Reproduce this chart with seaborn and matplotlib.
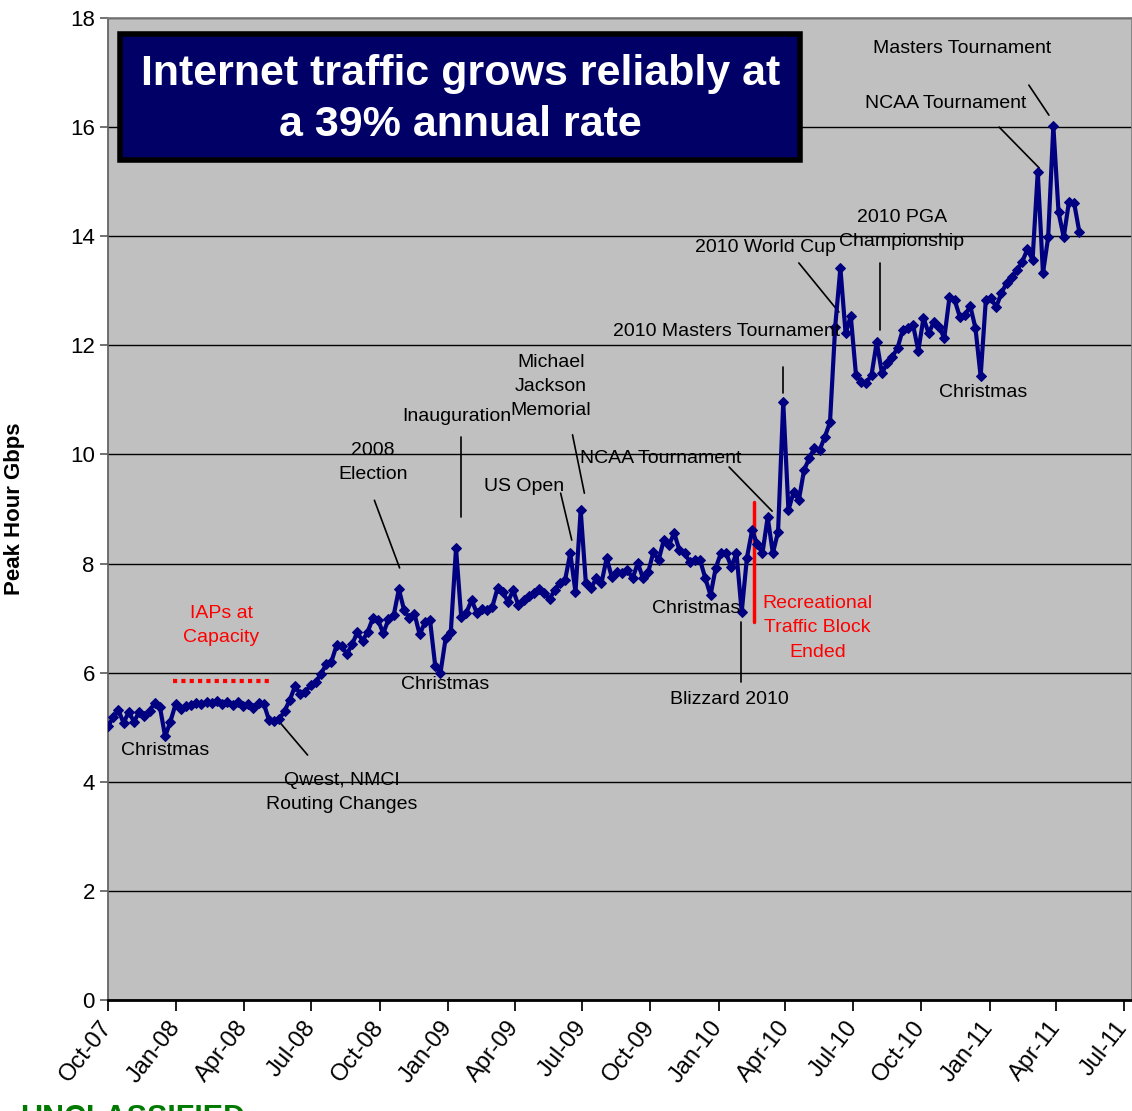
import numpy as np
import pandas as pd
import matplotlib
matplotlib.use("Agg")
import matplotlib.pyplot as plt
import matplotlib.dates as mdates
from matplotlib.patches import Rectangle
import seaborn as sns


# DATA

start_date = "2007-10-01"

peak_gbps = [
    5.02, 5.18, 5.31, 5.08, 5.28, 5.10, 5.28, 5.20, 5.30, 5.45,
    5.37, 4.83, 5.10, 5.42, 5.33, 5.38, 5.40, 5.45, 5.42, 5.47,
    5.44, 5.48, 5.43, 5.47, 5.41, 5.46, 5.38, 5.42, 5.35, 5.44,
    5.43, 5.13, 5.12, 5.15, 5.30, 5.50, 5.75, 5.61, 5.65, 5.77,
    5.82, 5.98, 6.15, 6.20, 6.50, 6.48, 6.34, 6.52, 6.74, 6.58,
    6.75, 7.00, 6.96, 6.72, 6.98, 7.05, 7.53, 7.15, 7.00, 7.08,
    6.70, 6.92, 6.96, 6.12, 5.99, 6.63, 6.75, 8.28, 7.02, 7.10,
    7.33, 7.10, 7.16, 7.15, 7.21, 7.55, 7.48, 7.30, 7.51, 7.24,
    7.33, 7.40, 7.46, 7.53, 7.46, 7.35, 7.51, 7.64, 7.70, 8.19,
    7.48, 8.98, 7.64, 7.55, 7.73, 7.64, 8.10, 7.75, 7.84, 7.82,
    7.88, 7.73, 8.01, 7.73, 7.84, 8.21, 8.06, 8.43, 8.34, 8.56,
    8.25, 8.19, 8.03, 8.06, 8.06, 7.73, 7.42, 7.92, 8.19, 8.19,
    7.94, 8.19, 7.11, 8.10, 8.61, 8.35, 8.19, 8.85, 8.19, 8.58,
    10.96, 8.98, 9.31, 9.16, 9.71, 9.93, 10.12, 10.08, 10.32, 10.59,
    12.34, 13.42, 12.22, 12.54, 11.46, 11.33, 11.31, 11.46, 12.06, 11.49,
    11.67, 11.79, 11.95, 12.28, 12.32, 12.37, 11.90, 12.50, 12.22, 12.43,
    12.34, 12.13, 12.88, 12.83, 12.52, 12.56, 12.72, 12.32, 11.43, 12.83,
    12.86, 12.70, 12.96, 13.14, 13.25, 13.38, 13.53, 13.76, 13.57, 15.18,
    13.32, 13.98, 16.02, 14.44, 13.98, 14.63, 14.61, 14.08,
]

y_ticks = [0, 2, 4, 6, 8, 10, 12, 14, 16, 18]

title_text = "Internet traffic grows reliably at\na 39% annual rate"

# (label, date, value, colour)
annotations = [
    ("Christmas", "2007-12-17", 4.58, "black"),
    ("Qwest, NMCI\nRouting Changes", "2008-08-11", 3.81, "black"),
    ("IAPs at\nCapacity", "2008-03-02", 6.87, "red"),
    ("2008\nElection", "2008-09-22", 9.86, "black"),
    ("Christmas", "2008-12-28", 5.79, "black"),
    ("Inauguration", "2009-01-13", 10.69, "black"),
    ("Michael\nJackson\nMemorial", "2009-05-20", 11.25, "black"),
    ("US Open", "2009-04-14", 9.42, "black"),
    ("NCAA Tournament", "2009-10-15", 9.93, "black"),
    ("Christmas", "2009-12-02", 7.18, "black"),
    ("Blizzard 2010", "2010-01-15", 5.50, "black"),
    ("Recreational\nTraffic Block\nEnded", "2010-05-14", 6.82, "red"),
    ("2010 Masters Tournament", "2010-01-11", 12.26, "black"),
    ("2010 World Cup", "2010-03-05", 13.80, "black"),
    ("2010 PGA\nChampionship", "2010-09-05", 14.13, "black"),
    ("Christmas", "2010-12-24", 11.13, "black"),
    ("NCAA Tournament", "2010-11-03", 16.44, "black"),
    ("Masters Tournament", "2010-11-25", 17.45, "black"),
]

# leader lines: (date1, value1, date2, value2)
leaders = [
    ("2008-05-17", 5.13, "2008-06-26", 4.49),
    ("2008-09-24", 9.16, "2008-10-28", 7.92),
    ("2009-01-19", 10.32, "2009-01-19", 8.85),
    ("2009-06-18", 10.36, "2009-07-04", 9.29),
    ("2009-06-02", 9.29, "2009-06-17", 8.43),
    ("2010-01-15", 9.77, "2010-03-14", 8.96),
    ("2010-01-31", 6.93, "2010-01-31", 5.83),
    ("2010-03-29", 11.60, "2010-03-29", 11.13),
    ("2010-04-19", 13.51, "2010-06-12", 12.61),
    ("2010-08-06", 13.51, "2010-08-06", 12.28),
    ("2011-01-14", 16.00, "2011-03-09", 15.25),
    ("2011-02-23", 16.77, "2011-03-22", 16.22),
]

capacity_span = ("2007-12-27", "2008-05-06", 5.85)
block_line = ("2010-02-18", 6.93, 9.13)


# STYLE

sns.set_theme(style="white")
plt.rcParams["font.family"] = ["Liberation Sans", "DejaVu Sans"]

LINE_COLOR = "#000080"


def d(s):
    return mdates.date2num(pd.Timestamp(s))


# MAIN

df = pd.DataFrame({
    "date": pd.date_range(start_date, periods=len(peak_gbps), freq="7D"),
    "gbps": peak_gbps,
})

fig = plt.figure(figsize=(11.32, 11.11), dpi=100)
ax = fig.add_axes([108 / 1132, 1 - 1000 / 1111, 1024 / 1132, 982 / 1111])
ax.set_facecolor("#C0C0C0")

sns.lineplot(
    data=df,
    x="date",
    y="gbps",
    ax=ax,
    color=LINE_COLOR,
    linewidth=3,
    marker="D",
    markersize=5.5,
    markeredgecolor=LINE_COLOR,
    zorder=4,
)

ax.set_ylim(0, 18)
ax.set_yticks(y_ticks)
ax.set_xlim(d("2007-10-01"), d("2011-07-12"))

ax.xaxis.set_major_locator(mdates.MonthLocator(bymonth=[1, 4, 7, 10]))
ax.xaxis.set_major_formatter(mdates.DateFormatter("%b-%y"))

ax.grid(axis="y", color="black", linewidth=1)
ax.set_axisbelow(True)

ax.tick_params(axis="y", labelsize=16, length=6, direction="out", left=True,
               color="#606060", labelcolor="black")
ax.tick_params(axis="x", labelsize=17, length=8, direction="out", bottom=True,
               color="black", labelcolor="black", pad=9)
for lbl in ax.get_xticklabels():
    lbl.set_rotation(52)
    lbl.set_ha("right")
    lbl.set_va("center")
    lbl.set_rotation_mode("anchor")

ax.set_xlabel("")
ax.set_ylabel("Peak Hour Gbps", fontsize=16, fontweight="bold",
              color="black", labelpad=32)

for side in ["top", "right"]:
    ax.spines[side].set_color("#808080")
ax.spines["left"].set_color("#606060")
ax.spines["bottom"].set_color("black")
ax.spines["bottom"].set_linewidth(2)

# annotations

for label, date, value, colour in annotations:
    ax.text(
        d(date), value, label,
        ha="center", va="center",
        color=colour, fontsize=14,
        linespacing=1.55, zorder=5,
    )

for d1, v1, d2, v2 in leaders:
    ax.plot([d(d1), d(d2)], [v1, v2], color="black", linewidth=1.2, zorder=3)

ax.plot(
    [d(capacity_span[0]), d(capacity_span[1])],
    [capacity_span[2], capacity_span[2]],
    color="red", linewidth=3, linestyle=(0, (1, 1)), zorder=3,
)

ax.plot(
    [d(block_line[0]), d(block_line[0])],
    [block_line[1], block_line[2]],
    color="red", linewidth=2.5, zorder=3,
)

# title box

ax.add_patch(Rectangle(
    (0.0117, 0.8554), 0.664, 0.128,
    transform=ax.transAxes,
    facecolor="#000066", edgecolor="black", linewidth=4, zorder=6,
))

ax.text(
    0.344, 0.917, title_text,
    transform=ax.transAxes,
    ha="center", va="center",
    color="white", fontsize=31, fontweight="bold",
    linespacing=1.35, zorder=7,
)

fig.text(
    0.018, 0.0062, "UNCLASSIFIED",
    color="#007A00", fontsize=22, fontweight="bold", va="top",
)

fig.savefig("out.png", dpi=100)
